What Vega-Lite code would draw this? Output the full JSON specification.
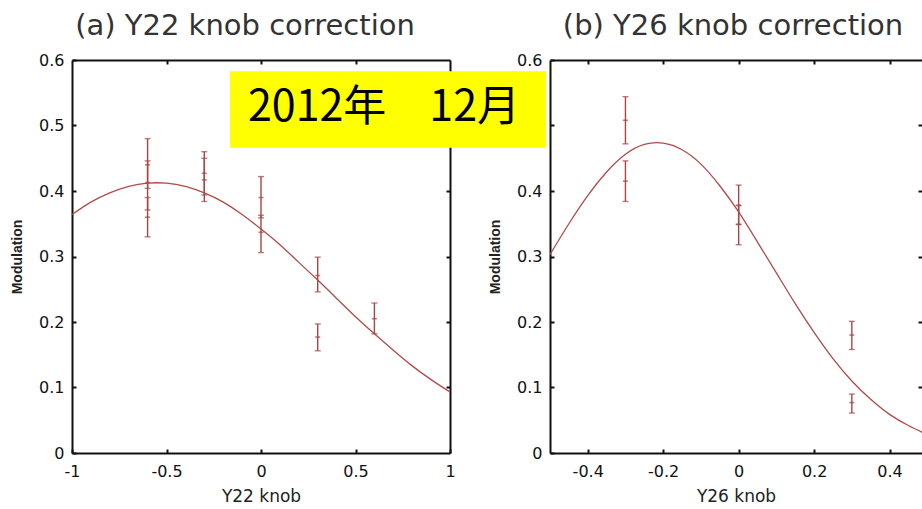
{
  "$schema": "https://vega.github.io/schema/vega-lite/v6.json",
  "background": "white",
  "padding": {"left": 10, "top": 12, "right": 0, "bottom": 2},
  "bounds": "flush",
  "datasets": {
    "curveA": [
      {"x": -1.0, "y": 0.364}, {"x": -0.9, "y": 0.383}, {"x": -0.8, "y": 0.397}, {"x": -0.7, "y": 0.407},
      {"x": -0.6, "y": 0.412}, {"x": -0.5, "y": 0.412}, {"x": -0.4, "y": 0.407}, {"x": -0.3, "y": 0.397},
      {"x": -0.2, "y": 0.383}, {"x": -0.1, "y": 0.364}, {"x": 0.0, "y": 0.342}, {"x": 0.1, "y": 0.318},
      {"x": 0.2, "y": 0.291}, {"x": 0.3, "y": 0.264}, {"x": 0.4, "y": 0.236}, {"x": 0.5, "y": 0.208},
      {"x": 0.6, "y": 0.182}, {"x": 0.7, "y": 0.157}, {"x": 0.8, "y": 0.133}, {"x": 0.9, "y": 0.112},
      {"x": 1.0, "y": 0.093}
    ],
    "errA": [
      {"x": -0.6, "y": 0.44, "lo": 0.404, "hi": 0.48},
      {"x": -0.6, "y": 0.413, "lo": 0.371, "hi": 0.446},
      {"x": -0.6, "y": 0.36, "lo": 0.33, "hi": 0.39},
      {"x": -0.3, "y": 0.427, "lo": 0.394, "hi": 0.46},
      {"x": -0.3, "y": 0.417, "lo": 0.384, "hi": 0.45},
      {"x": 0.0, "y": 0.39, "lo": 0.359, "hi": 0.422},
      {"x": 0.0, "y": 0.337, "lo": 0.306, "hi": 0.363},
      {"x": 0.3, "y": 0.271, "lo": 0.246, "hi": 0.299},
      {"x": 0.3, "y": 0.177, "lo": 0.156, "hi": 0.197},
      {"x": 0.6, "y": 0.205, "lo": 0.182, "hi": 0.229}
    ],
    "curveB": [
      {"x": -0.5, "y": 0.303}, {"x": -0.45, "y": 0.35}, {"x": -0.4, "y": 0.393}, {"x": -0.35, "y": 0.429},
      {"x": -0.3, "y": 0.456}, {"x": -0.25, "y": 0.471}, {"x": -0.2, "y": 0.473}, {"x": -0.15, "y": 0.463},
      {"x": -0.1, "y": 0.441}, {"x": -0.05, "y": 0.408}, {"x": 0.0, "y": 0.368}, {"x": 0.05, "y": 0.322},
      {"x": 0.1, "y": 0.275}, {"x": 0.15, "y": 0.228}, {"x": 0.2, "y": 0.184}, {"x": 0.25, "y": 0.144},
      {"x": 0.3, "y": 0.11}, {"x": 0.35, "y": 0.082}, {"x": 0.4, "y": 0.059}, {"x": 0.45, "y": 0.042},
      {"x": 0.5, "y": 0.028}
    ],
    "errB": [
      {"x": -0.3, "y": 0.508, "lo": 0.472, "hi": 0.544},
      {"x": -0.3, "y": 0.415, "lo": 0.384, "hi": 0.446},
      {"x": 0.0, "y": 0.378, "lo": 0.349, "hi": 0.409},
      {"x": 0.0, "y": 0.349, "lo": 0.318, "hi": 0.378},
      {"x": 0.3, "y": 0.18, "lo": 0.158, "hi": 0.201},
      {"x": 0.3, "y": 0.077, "lo": 0.061, "hi": 0.09}
    ],
    "note": [
      {"x1": -1.348, "x2": -0.511, "y1": 0.466, "y2": 0.583, "tx": -0.94, "ty": 0.527, "label": "2012年　12月"}
    ]
  },
  "spacing": 100,
  "hconcat": [
    {
      "width": 378,
      "height": 393,
      "title": {"text": "(a) Y22 knob correction", "dx": -16},
      "layer": [
        {
          "data": {"name": "curveA"},
          "mark": {"type": "line", "interpolate": "natural", "color": "#b04a4a", "strokeWidth": 1.3},
          "encoding": {
            "x": {"field": "x", "type": "quantitative", "scale": {"domain": [-1, 1], "nice": false, "zero": false},
                  "axis": {"orient": "bottom", "title": "Y22 knob", "values": [-1, -0.5, 0, 0.5, 1],
                           "labelExpr": "datum.value < 0 ? '-' + format(-datum.value, '~g') : format(datum.value, '~g')"}},
            "y": {"field": "y", "type": "quantitative", "scale": {"domain": [0, 0.6], "nice": false, "zero": false},
                  "axis": {"orient": "left", "title": "Modulation", "values": [0, 0.1, 0.2, 0.3, 0.4, 0.5, 0.6],
                           "labelExpr": "format(datum.value, '.1~f')"}}
          }
        },
        {
          "data": {"name": "errA"},
          "mark": {"type": "rule", "color": "#a84444", "strokeWidth": 1.4},
          "encoding": {
            "x": {"field": "x", "type": "quantitative",
                  "axis": {"orient": "top", "title": null, "labels": false, "values": [-0.5, 0, 0.5]}},
            "y": {"field": "lo", "type": "quantitative",
                  "axis": {"orient": "right", "title": null, "labels": false, "values": [0.1, 0.2, 0.3, 0.4, 0.5]}},
            "y2": {"field": "hi"}
          }
        },
        {
          "data": {"name": "errA"},
          "mark": {"type": "tick", "orient": "horizontal", "color": "#a84444", "size": 6, "thickness": 1.4},
          "encoding": {"x": {"field": "x", "type": "quantitative", "axis": null}, "y": {"field": "lo", "type": "quantitative", "axis": null}}
        },
        {
          "data": {"name": "errA"},
          "mark": {"type": "tick", "orient": "horizontal", "color": "#a84444", "size": 6, "thickness": 1.4},
          "encoding": {"x": {"field": "x", "type": "quantitative", "axis": null}, "y": {"field": "hi", "type": "quantitative", "axis": null}}
        },
        {
          "data": {"name": "errA"},
          "mark": {"type": "tick", "orient": "horizontal", "color": "#a84444", "size": 5, "thickness": 1.6},
          "encoding": {"x": {"field": "x", "type": "quantitative", "axis": null}, "y": {"field": "y", "type": "quantitative", "axis": null}}
        }
      ],
      "resolve": {"axis": {"x": "independent", "y": "independent"}}
    },
    {
      "width": 372,
      "height": 393,
      "title": {"text": "(b) Y26 knob correction", "dx": -3},
      "layer": [
        {
          "data": {"name": "curveB"},
          "mark": {"type": "line", "interpolate": "natural", "color": "#b04a4a", "strokeWidth": 1.3, "clip": true},
          "encoding": {
            "x": {"field": "x", "type": "quantitative", "scale": {"domain": [-0.5, 0.486], "nice": false, "zero": false},
                  "axis": {"orient": "bottom", "title": "Y26 knob", "values": [-0.4, -0.2, 0, 0.2, 0.4],
                           "labelExpr": "datum.value < 0 ? '-' + format(-datum.value, '~g') : format(datum.value, '~g')"}},
            "y": {"field": "y", "type": "quantitative", "scale": {"domain": [0, 0.6], "nice": false, "zero": false},
                  "axis": {"orient": "left", "title": "Modulation", "values": [0, 0.1, 0.2, 0.3, 0.4, 0.5, 0.6],
                           "labelExpr": "datum.value == 0.5 ? '' : format(datum.value, '.1~f')"}}
          }
        },
        {
          "data": {"name": "errB"},
          "mark": {"type": "rule", "color": "#a84444", "strokeWidth": 1.4},
          "encoding": {
            "x": {"field": "x", "type": "quantitative",
                  "axis": {"orient": "top", "title": null, "labels": false, "values": [-0.4, -0.2, 0, 0.2, 0.4]}},
            "y": {"field": "lo", "type": "quantitative",
                  "axis": {"orient": "right", "title": null, "labels": false, "domain": false, "values": [0.1, 0.2, 0.3, 0.4, 0.5]}},
            "y2": {"field": "hi"}
          }
        },
        {
          "data": {"name": "errB"},
          "mark": {"type": "tick", "orient": "horizontal", "color": "#a84444", "size": 6, "thickness": 1.4},
          "encoding": {"x": {"field": "x", "type": "quantitative", "axis": null}, "y": {"field": "lo", "type": "quantitative", "axis": null}}
        },
        {
          "data": {"name": "errB"},
          "mark": {"type": "tick", "orient": "horizontal", "color": "#a84444", "size": 6, "thickness": 1.4},
          "encoding": {"x": {"field": "x", "type": "quantitative", "axis": null}, "y": {"field": "hi", "type": "quantitative", "axis": null}}
        },
        {
          "data": {"name": "errB"},
          "mark": {"type": "tick", "orient": "horizontal", "color": "#a84444", "size": 5, "thickness": 1.6},
          "encoding": {"x": {"field": "x", "type": "quantitative", "axis": null}, "y": {"field": "y", "type": "quantitative", "axis": null}}
        },
        {
          "data": {"name": "note"},
          "mark": {"type": "rect", "color": "#ffff00"},
          "encoding": {
            "x": {"field": "x1", "type": "quantitative", "axis": null}, "x2": {"field": "x2"},
            "y": {"field": "y1", "type": "quantitative", "axis": null}, "y2": {"field": "y2"}
          }
        },
        {
          "data": {"name": "note"},
          "mark": {"type": "text", "font": "Noto Sans CJK JP", "fontSize": 43, "color": "#000000", "align": "center", "baseline": "middle"},
          "encoding": {
            "x": {"field": "tx", "type": "quantitative", "axis": null},
            "y": {"field": "ty", "type": "quantitative", "axis": null},
            "text": {"field": "label"}
          }
        }
      ],
      "resolve": {"axis": {"x": "independent", "y": "independent"}}
    }
  ],
  "config": {
    "view": {"stroke": null},
    "axis": {
      "grid": false,
      "domain": true, "domainColor": "#111111", "domainWidth": 2,
      "ticks": true, "tickColor": "#111111", "tickWidth": 2, "tickSize": -4,
      "labelFont": "DejaVu Sans", "labelFontSize": 16, "labelColor": "#111111", "labelPadding": 12,
      "labelFlush": false, "labelOverlap": false,
      "titleFont": "DejaVu Sans", "titleFontSize": 17, "titleFontWeight": "normal", "titleColor": "#222222"
    },
    "axisY": {"titleFont": "Liberation Sans", "titleFontSize": 14, "titleFontWeight": "bold", "titlePadding": 14},
    "axisX": {"labelPadding": 14, "titlePadding": 9},
    "title": {"font": "DejaVu Sans", "fontSize": 29, "fontWeight": "normal", "color": "#333333", "anchor": "middle", "offset": 11}
  }
}
